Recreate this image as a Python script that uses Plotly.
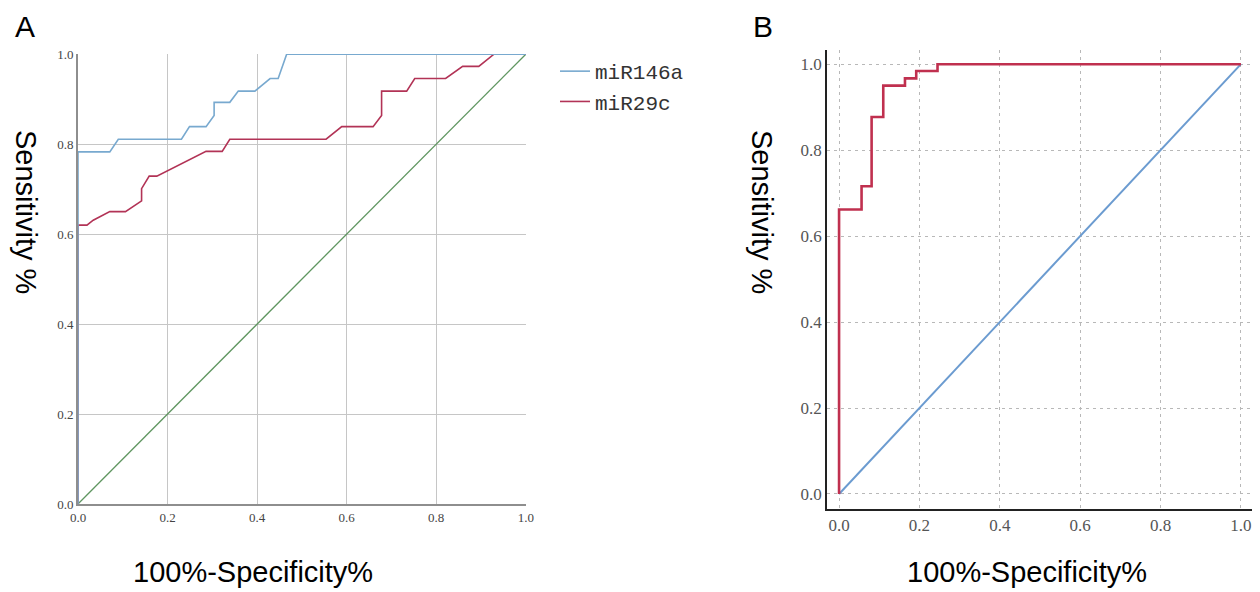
import plotly.graph_objects as go

# Panel A data (ROC curves)
a_146_x = [0, 0, 0.071, 0.09, 0.231, 0.249, 0.286, 0.304, 0.304, 0.339, 0.358, 0.395, 0.429, 0.447, 0.466, 1.0]
a_146_y = [0, 0.783, 0.783, 0.811, 0.811, 0.839, 0.839, 0.864, 0.893, 0.893, 0.918, 0.918, 0.946, 0.946, 1.0, 1.0]
a_29_x = [0, 0, 0.02, 0.034, 0.071, 0.106, 0.142, 0.142, 0.159, 0.176, 0.286, 0.322, 0.339, 0.554, 0.589, 0.659, 0.678, 0.678, 0.734, 0.752, 0.821, 0.859, 0.895, 0.929, 1.0]
a_29_y = [0, 0.62, 0.62, 0.631, 0.65, 0.65, 0.674, 0.701, 0.729, 0.729, 0.784, 0.784, 0.811, 0.811, 0.839, 0.839, 0.864, 0.918, 0.918, 0.946, 0.946, 0.973, 0.973, 1.0, 1.0]
ref_x = [0, 1]
ref_y = [0, 1]

# Panel B data
b_x = [0, 0, 0.056, 0.056, 0.081, 0.081, 0.110, 0.110, 0.164, 0.164, 0.192, 0.192, 0.245, 0.245, 1.0]
b_y = [0, 0.662, 0.662, 0.716, 0.716, 0.877, 0.877, 0.95, 0.95, 0.967, 0.967, 0.984, 0.984, 1.0, 1.0]

ticks = [0, 0.2, 0.4, 0.6, 0.8, 1.0]
tick_text = ["0.0", "0.2", "0.4", "0.6", "0.8", "1.0"]

# page body has an 8px margin: the figure starts 8px in, so size it to reach the window edge
OFF = 8
W, H = 1260 - OFF, 592 - OFF


def px(x):
    return min(1.0, max(0.0, (x - OFF) / W))


def py(y):
    return min(1.0, max(0.0, 1 - (y - OFF) / H))


fig = go.Figure()

fig.add_trace(go.Scatter(x=ref_x, y=ref_y, mode="lines", line=dict(color="#5f9660", width=1.3),
                         showlegend=False, xaxis="x", yaxis="y", hoverinfo="skip"))
fig.add_trace(go.Scatter(x=a_29_x, y=a_29_y, mode="lines", name="miR29c",
                         line=dict(color="#b23356", width=1.6), xaxis="x", yaxis="y"))
fig.add_trace(go.Scatter(x=a_146_x, y=a_146_y, mode="lines", name="miR146a",
                         line=dict(color="#78a9cf", width=1.6), xaxis="x", yaxis="y"))

fig.add_trace(go.Scatter(x=ref_x, y=ref_y, mode="lines", line=dict(color="#6b9bd0", width=2),
                         showlegend=False, xaxis="x2", yaxis="y2"))
fig.add_trace(go.Scatter(x=b_x, y=b_y, mode="lines", line=dict(color="#c0304f", width=2.6),
                         showlegend=False, xaxis="x2", yaxis="y2"))

axA = dict(range=[0, 1.0005], tickvals=ticks, ticktext=tick_text, showgrid=True,
           gridcolor="#c6c6c6", gridwidth=1, zeroline=False, showline=True,
           linecolor="#8e8e8e", linewidth=2, ticks="", automargin=False,
           tickfont=dict(family="Liberation Serif", size=13, color="#444"))
axB = dict(tickvals=ticks, ticktext=tick_text, showgrid=True, gridcolor="#b8b8b8",
           griddash="3px,4px", gridwidth=1.2, zeroline=False, showline=True,
           linecolor="#222", linewidth=1.5, ticks="", automargin=False,
           tickfont=dict(family="Liberation Serif", size=17, color="#555"))

fig.update_layout(
    width=W, height=H,
    margin=dict(l=0, r=0, t=0, b=0, autoexpand=False),
    plot_bgcolor="white", paper_bgcolor="white",
    xaxis=dict(axA, domain=[px(78), px(526)], anchor="y"),
    yaxis=dict(axA, domain=[py(504), py(54)], anchor="x"),
    xaxis2=dict(axB, domain=[px(827), px(1253)], range=[-0.03, 1.03], anchor="y2"),
    yaxis2=dict(axB, domain=[py(509), py(50)], range=[-0.035, 1.033], anchor="x2"),
    legend=dict(x=px(555), y=py(51), xanchor="left", yanchor="top",
                font=dict(family="Liberation Mono", size=21, color="#333"),
                traceorder="reversed", bgcolor="rgba(0,0,0,0)", tracegroupgap=0),
    showlegend=True,
)

title_font = dict(family="Liberation Sans", size=29, color="black")
letter_font = dict(family="Liberation Sans", size=30, color="black")
ann = [
    dict(text="A", x=px(25), y=1.0, yanchor="top", font=letter_font),
    dict(text="B", x=px(763), y=1.0, yanchor="top", font=letter_font),
    dict(text="Sensitivity %", x=px(26), y=py(212), textangle=90, font=title_font),
    dict(text="Sensitivity %", x=px(762), y=py(212), textangle=90, font=title_font),
    dict(text="100%-Specificity%", x=px(253), y=py(572), font=title_font),
    dict(text="100%-Specificity%", x=px(1027), y=py(572), font=title_font),
]
for a in ann:
    a.setdefault("yanchor", "middle")
    a.update(xref="paper", yref="paper", showarrow=False, xanchor="center")
fig.update_layout(annotations=ann)

fig.write_html("out.html")
